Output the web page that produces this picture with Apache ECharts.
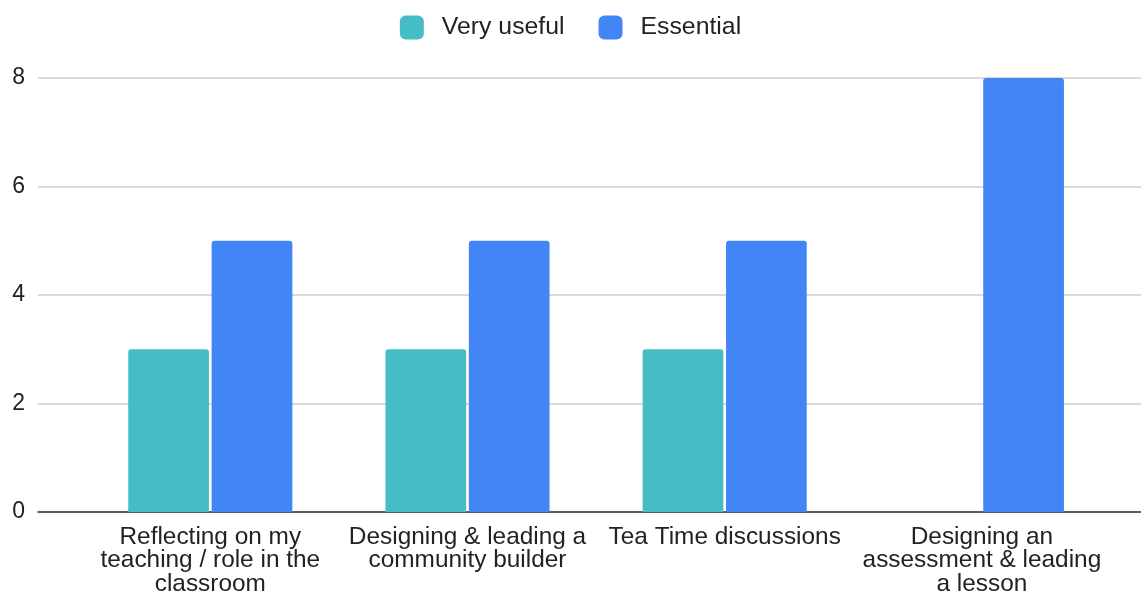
<!DOCTYPE html>
<html>
<head>
<meta charset="utf-8">
<script src="https://cdn.jsdelivr.net/npm/echarts@6/dist/echarts.min.js"></script>
<style>
  html, body { margin: 0; padding: 0; background: #fff; }
  #chart { width: 1141px; height: 594px; }
</style>
</head>
<body>
<div id="chart"></div>
<script>
// Activities rated by participants
const categories = [
  'Reflecting on my\nteaching / role in the\nclassroom',
  'Designing & leading a\ncommunity builder',
  'Tea Time discussions',
  'Designing an\nassessment & leading\na lesson'
];
const veryUseful = [3, 3, 3, 0];
const essential = [5, 5, 5, 8];
const yTicks = [0, 2, 4, 6, 8];

const FONT = '"Liberation Sans", Arial, sans-serif';
const TEXT = '#222';
const TEAL = '#46BDC6';
const BLUE = '#4285F4';

const chart = echarts.init(document.getElementById('chart'), null, { renderer: 'canvas' });

chart.setOption({
  animation: false,
  textStyle: { fontFamily: FONT },
  legend: {
    top: 15,
    left: 'center',
    padding: 0,
    itemWidth: 24,
    itemHeight: 24,
    itemGap: 34,
    icon: 'roundRect',
    textStyle: { fontSize: 24.8, color: TEXT, fontFamily: FONT, padding: [2, 0, 0, 13] },
    data: ['Very useful', 'Essential']
  },
  grid: [
    // frame: gridlines and baseline spanning the full width
    { left: 38, right: 0, top: 78, bottom: 82, containLabel: false, outerBoundsMode: 'none' },
    // bars and category labels
    { left: 81.7, right: 30.5, top: 78, bottom: 82, containLabel: false, outerBoundsMode: 'none' }
  ],
  xAxis: [
    {
      gridIndex: 0, type: 'category', data: [''],
      axisLine: { show: true, lineStyle: { color: '#333', width: 1.5 } },
      axisTick: { show: false }, axisLabel: { show: false }, splitLine: { show: false }
    },
    {
      gridIndex: 1, type: 'category', data: categories,
      axisLine: { show: false }, axisTick: { show: false },
      axisLabel: {
        interval: 0, margin: 13, fontSize: 24.4, lineHeight: 23.6,
        color: TEXT, fontFamily: FONT, align: 'center'
      }
    }
  ],
  yAxis: [
    {
      gridIndex: 0, type: 'value', min: yTicks[0], max: yTicks[yTicks.length - 1], interval: 2,
      axisLine: { show: false }, axisTick: { show: false },
      axisLabel: { fontSize: 23, color: TEXT, margin: 13, fontFamily: FONT },
      splitLine: { lineStyle: { color: '#cccccc', width: 1.5 } }
    },
    {
      gridIndex: 1, type: 'value', min: yTicks[0], max: yTicks[yTicks.length - 1], interval: 2,
      show: false, splitLine: { show: false }
    }
  ],
  series: [
    {
      name: 'Very useful', type: 'bar', xAxisIndex: 1, yAxisIndex: 1,
      data: veryUseful, barGap: '3.3%', barCategoryGap: '36.2%',
      itemStyle: { color: TEAL, borderRadius: [3, 3, 0, 0] }
    },
    {
      name: 'Essential', type: 'bar', xAxisIndex: 1, yAxisIndex: 1,
      data: essential, barGap: '3.3%', barCategoryGap: '36.2%',
      itemStyle: { color: BLUE, borderRadius: [3, 3, 0, 0] }
    }
  ]
});
</script>
</body>
</html>
